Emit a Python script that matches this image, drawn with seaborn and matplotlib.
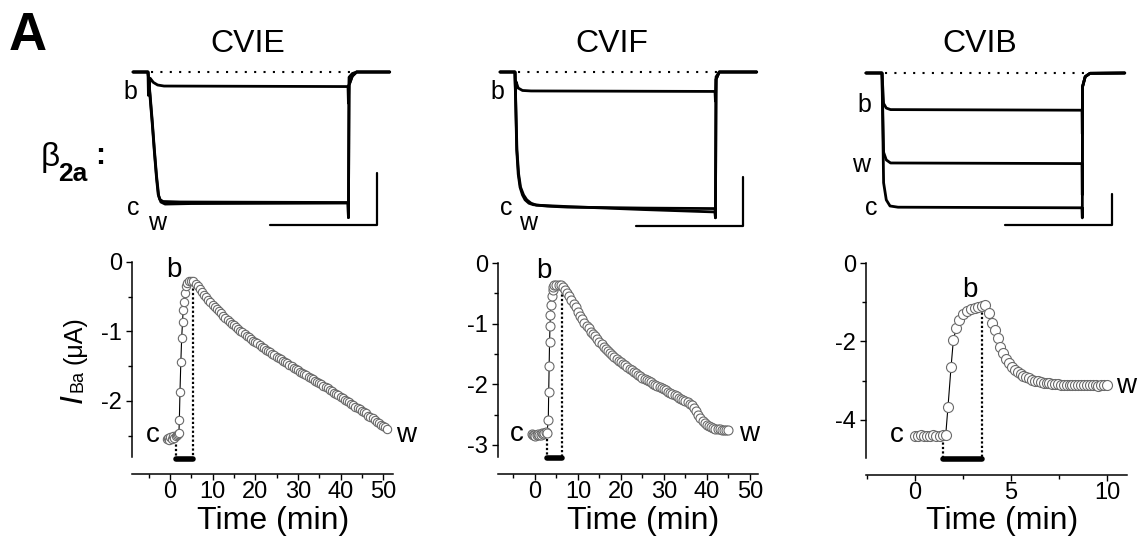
import numpy as np
import matplotlib
matplotlib.use("Agg")
import matplotlib.pyplot as plt
import seaborn as sns
from matplotlib.ticker import MultipleLocator, FormatStrFormatter

sns.set_theme(style="ticks", rc={
    "axes.edgecolor": "black", "xtick.color": "black", "ytick.color": "black",
    "text.color": "black", "axes.labelcolor": "black",
})
plt.rcParams["font.family"] = ["Liberation Sans", "DejaVu Sans"]
plt.rcParams["axes.unicode_minus"] = False

W, H = 1141, 550
MS_PER_PX = 0.935

# === Data ===
channels = ["CVIE", "CVIF", "CVIB"]

# current traces: time (ms), current (uA); c = control, b = bath, w = washout
cvie_c_t = [-14, 0, 2, 4, 6, 8, 9.5, 11, 14, 30, 187, 187.4, 188, 191, 195, 226]
cvie_c_i = [0, 0, -0.5, -1.0, -1.55, -2.05, -2.35, -2.45, -2.49, -2.5, -2.51, -2.8, -0.25, -0.08, 0, 0]
cvie_w_t = [-14, 0, 2, 4, 6, 8, 10, 12, 16, 40, 187, 187.4, 188, 191, 195, 226]
cvie_w_i = [0, 0, -0.45, -0.95, -1.5, -2.0, -2.38, -2.5, -2.54, -2.53, -2.52, -2.8, -0.25, -0.08, 0, 0]
cvie_b_t = [-14, 0, 0.4, 2, 5, 9, 15, 187, 187.4, 188, 191, 195, 226]
cvie_b_i = [0, 0, -0.45, -0.12, -0.2, -0.25, -0.27, -0.28, -0.6, -0.1, -0.03, 0, 0]

cvif_c_t = [-14, 0, 1.6, 3, 4.7, 7, 9.4, 13, 17, 30, 49, 120, 187, 187.4, 188, 191, 226]
cvif_c_i = [0, 0, -1.6, -2.1, -2.37, -2.53, -2.63, -2.7, -2.73, -2.76, -2.78, -2.8, -2.81, -3.0, -0.15, 0, 0]
cvif_w_t = [-14, 0, 1.8, 3.4, 5.2, 8, 11, 15, 20, 50, 120, 187, 187.4, 188, 191, 226]
cvif_w_i = [0, 0, -1.6, -2.1, -2.37, -2.53, -2.63, -2.7, -2.74, -2.77, -2.83, -2.88, -3.0, -0.15, 0, 0]
cvif_b_t = [-14, 0, 0.4, 1, 3, 7, 15, 187, 187.4, 188, 191, 226]
cvif_b_i = [0, 0, -0.45, -0.2, -0.33, -0.38, -0.39, -0.40, -0.6, -0.1, 0, 0]

cvib_c_t = [-15, 0, 1.5, 4, 7.5, 15, 187, 187.3, 187.5, 190, 194.5, 227]
cvib_c_i = [0, 0, -3.6, -4.16, -4.36, -4.4, -4.42, -4.75, -0.45, -0.12, -0.01, 0]
cvib_w_t = [-15, 0, 1.5, 4, 8, 187, 187.3, 187.5, 190, 194.5, 227]
cvib_w_i = [0, 0, -2.6, -2.85, -2.95, -2.97, -4.0, -0.45, -0.12, -0.01, 0]
cvib_b_t = [-15, 0, 1.5, 4, 8, 187, 187.3, 187.5, 190, 194.5, 227]
cvib_b_i = [0, 0, -1.0, -1.15, -1.2, -1.22, -2.0, -0.45, -0.12, -0.01, 0]

pulse_end = 187      # ms
scale_ms = 100
scale_ua = 1

# time courses: time (min), I_Ba (uA)
cvie_pre_t = [-0.8, -0.5, -0.2, 0.1, 0.4, 0.7, 1.0, 1.3, 1.6, 1.9]
cvie_pre_i = [-2.55, -2.53, -2.56, -2.52, -2.54, -2.50, -2.53, -2.51, -2.49, -2.47]
cvie_rise_t = [2.1, 2.2, 2.35, 2.55, 2.75, 2.95, 3.1, 3.25, 3.45, 3.7]
cvie_rise_i = [-2.46, -2.28, -1.87, -1.44, -1.09, -0.86, -0.69, -0.57, -0.45, -0.35]
cvie_decay_i = [
    -0.30, -0.28, -0.27, -0.28, -0.31, -0.35, -0.39, -0.43, -0.47, -0.51,
    -0.55, -0.58, -0.62, -0.65, -0.68, -0.71, -0.74, -0.77, -0.80, -0.83,
    -0.86, -0.89, -0.91, -0.94, -0.96, -0.99, -1.01, -1.04, -1.06, -1.08,
    -1.11, -1.13, -1.15, -1.17, -1.19, -1.22, -1.24, -1.26, -1.28, -1.30,
    -1.32, -1.34, -1.36, -1.38, -1.40, -1.42, -1.44, -1.46, -1.48, -1.50,
    -1.52, -1.54, -1.56, -1.58, -1.60, -1.61, -1.63, -1.65, -1.67, -1.69,
    -1.71, -1.72, -1.74, -1.76, -1.78, -1.80, -1.82, -1.84, -1.86, -1.88,
    -1.90, -1.92, -1.94, -1.96, -1.98, -2.00, -2.02, -2.04, -2.06, -2.08,
    -2.10, -2.12, -2.14, -2.16, -2.18, -2.21, -2.23, -2.25, -2.28, -2.30,
    -2.32, -2.34, -2.36, -2.38, -2.40,
]
cvie_decay_start, cvie_step = 4.0, 0.5

cvif_pre_t = [-0.8, -0.5, -0.2, 0.1, 0.4, 0.7, 1.0, 1.3, 1.6, 1.9, 2.2, 2.5, 2.8]
cvif_pre_i = [-2.82, -2.84, -2.83, -2.85, -2.83, -2.82, -2.84, -2.83, -2.81, -2.82, -2.80, -2.79, -2.80]
cvif_rise_t = [3.1, 3.2, 3.3, 3.4, 3.5, 3.6, 3.75, 3.9, 4.1, 4.3]
cvif_rise_i = [-2.59, -2.12, -1.70, -1.30, -1.04, -0.86, -0.69, -0.55, -0.45, -0.40]
cvif_decay_i = [
    -0.37, -0.36, -0.36, -0.37, -0.40, -0.44, -0.49, -0.55, -0.61, -0.67,
    -0.73, -0.80, -0.87, -0.93, -0.99, -1.04, -1.08, -1.13, -1.17, -1.21,
    -1.26, -1.30, -1.34, -1.38, -1.42, -1.45, -1.49, -1.52, -1.55, -1.58,
    -1.61, -1.64, -1.67, -1.69, -1.72, -1.75, -1.77, -1.80, -1.82, -1.84,
    -1.87, -1.89, -1.91, -1.93, -1.95, -1.97, -1.99, -2.01, -2.03, -2.05,
    -2.06, -2.08, -2.10, -2.12, -2.14, -2.16, -2.18, -2.20, -2.22, -2.24,
    -2.26, -2.28, -2.30, -2.32, -2.35, -2.39, -2.44, -2.50, -2.55, -2.60,
    -2.64, -2.67, -2.69, -2.71, -2.72, -2.73, -2.74, -2.74, -2.75, -2.75,
    -2.75, -2.75,
]
cvif_decay_start, cvif_step = 4.5, 0.5

cvib_pre_t = [0.0, 0.16, 0.32, 0.48, 0.64, 0.8, 0.96, 1.12, 1.28, 1.44, 1.6]
cvib_pre_i = [-4.40, -4.41, -4.39, -4.40, -4.42, -4.40, -4.39, -4.41, -4.40, -4.38, -4.39]
cvib_rise_t = [1.72, 1.88, 2.0, 2.15, 2.3, 2.5, 2.7, 2.9, 3.1, 3.3, 3.5, 3.65]
cvib_rise_i = [-3.66, -2.64, -1.96, -1.66, -1.45, -1.30, -1.22, -1.17, -1.14, -1.11, -1.10, -1.07]
cvib_decay_i = [
    -1.27, -1.52, -1.70, -1.92, -2.13, -2.30, -2.45, -2.56, -2.65, -2.72,
    -2.78, -2.83, -2.87, -2.91, -2.94, -2.97, -3.00, -3.02, -3.04, -3.05,
    -3.06, -3.07, -3.08, -3.09, -3.09, -3.10, -3.10, -3.11, -3.10, -3.11,
    -3.11, -3.12, -3.11, -3.12, -3.12, -3.11, -3.12, -3.12, -3.13, -3.12,
    -3.12, -3.12,
]
cvib_decay_start, cvib_step = 3.85, 0.15

# toxin application (min): start, end, and current at the dotted markers
app_on = [1.5, 2.7, 1.48]
app_off = [5.4, 6.3, 3.47]
app_on_level = [-2.56, -2.9, -4.46]
app_off_level = [-0.31, -0.44, -1.15]

# === Layout (pixels) ===
def px_rect(x0, y0, x1, y1):
    return [x0 / W, 1 - y1 / H, (x1 - x0) / W, (y1 - y0) / H]

def fpx(x, y):
    return x / W, 1 - y / H

fig = plt.figure(figsize=(W / 100, H / 100), dpi=100)

# --- top: current traces ---
trace_anchor = [(148, 72, 52.0), (515, 72, 48.6), (882, 73, 30.5)]  # step px, baseline px, px per uA
trace_ylim = [(-3.4, 0.4), (-3.5, 0.4), (-5.3, 0.5)]
trace_xlim = (-25, 235)
scale_corner = [(214, -2.94), (213, -3.17), (215, -4.98)]
trace_sets = [
    [(cvie_c_t, cvie_c_i), (cvie_w_t, cvie_w_i), (cvie_b_t, cvie_b_i)],
    [(cvif_c_t, cvif_c_i), (cvif_w_t, cvif_w_i), (cvif_b_t, cvif_b_i)],
    [(cvib_c_t, cvib_c_i), (cvib_w_t, cvib_w_i), (cvib_b_t, cvib_b_i)],
]
trace_labels = [
    [("b", -16.8, -0.52), ("c", -13.7, -2.75), ("w", 8.1, -3.04)],
    [("b", -16.4, -0.56), ("c", -7.8, -2.94), ("w", 12.2, -3.25)],
    [("b", -16.8, -1.29), ("w", -19.6, -3.24), ("c", -10.5, -4.66)],
]
title_px = [(248, 44), (612, 44), (980, 44)]

for k in range(3):
    t0, y0, s = trace_anchor[k]
    x0 = t0 + trace_xlim[0] / MS_PER_PX
    x1 = t0 + trace_xlim[1] / MS_PER_PX
    ytop = y0 - trace_ylim[k][1] * s
    ybot = y0 - trace_ylim[k][0] * s
    ax = fig.add_axes(px_rect(x0, ytop, x1, ybot))
    ax.set_xlim(trace_xlim)
    ax.set_ylim(trace_ylim[k])
    ax.axis("off")
    for tt, ii in trace_sets[k]:
        sns.lineplot(x=tt, y=ii, ax=ax, sort=False, estimator=None,
                     color="black", linewidth=2.0, clip_on=False)
    ax.plot([3, pulse_end + 2], [0, 0], color="black", lw=1.5,
            linestyle=(0, (1, 3.5)), clip_on=False)
    cx, cy = scale_corner[k]
    ax.plot([cx - scale_ms, cx, cx], [cy, cy, cy + scale_ua], color="black",
            lw=1.6, clip_on=False)
    for lab, lx, ly in trace_labels[k]:
        ax.text(lx, ly, lab, fontsize=18, ha="center", va="baseline")
    fig.text(*fpx(*title_px[k]), channels[k], fontsize=23, ha="center", va="center")

fig.text(*fpx(9, 50), "A", fontsize=38, fontweight="bold", ha="left", va="baseline")
fig.text(*fpx(41, 166), "β", fontsize=24, ha="left", va="baseline")
fig.text(*fpx(58, 181), "2a", fontsize=19, fontweight="bold", ha="left", va="baseline")
fig.text(*fpx(95, 164), ":", fontsize=22, fontweight="bold", ha="left", va="baseline")

# --- bottom: time courses ---
tc_box = [(132, 262, 393, 457), (498, 263, 758, 457), (866, 263, 1127, 458)]
tc_xlim = [(-8.9, 52.3), (-8.6, 51.9), (-2.55, 11.04)]
tc_ylim = [(-2.806, 0), (-3.2, 0), (-4.97, 0)]
tc_xmajor = [10, 10, 5]
tc_ymajor = [1, 1, 2]
tc_msize = [6.0, 6.5, 7.2]
xlabel_coords = [(0.54, -0.25), (0.56, -0.25), (0.523, -0.245)]
bar_y = [-2.83, -3.22, -4.99]
tc_labels = [
    [("c", -4.1, -2.585), ("b", 0.98, -0.21), ("w", 55.4, -2.59)],
    [("c", -4.3, -2.94), ("b", 2.1, -0.25), ("w", 49.8, -2.94)],
    [("c", -0.95, -4.55), ("b", 2.85, -0.86), ("w", 11.0, -3.32)],
]
series = [
    (cvie_pre_t, cvie_pre_i, cvie_rise_t, cvie_rise_i, cvie_decay_start, cvie_step, cvie_decay_i),
    (cvif_pre_t, cvif_pre_i, cvif_rise_t, cvif_rise_i, cvif_decay_start, cvif_step, cvif_decay_i),
    (cvib_pre_t, cvib_pre_i, cvib_rise_t, cvib_rise_i, cvib_decay_start, cvib_step, cvib_decay_i),
]

for k in range(3):
    ax = fig.add_axes(px_rect(*tc_box[k]))
    pre_t, pre_i, rise_t, rise_i, d0, dt, dec_i = series[k]
    dec_t = d0 + dt * np.arange(len(dec_i))
    t = np.concatenate([pre_t, rise_t, dec_t])
    i = np.concatenate([pre_i, rise_i, dec_i])

    # application marks: dotted drops and bar
    for x, top in [(app_on[k], app_on_level[k]), (app_off[k], app_off_level[k])]:
        ax.plot([x, x], [top, bar_y[k]], color="black", lw=1.6,
                linestyle=(0, (1, 1)), clip_on=False)
    ax.plot([app_on[k], app_off[k]], [bar_y[k], bar_y[k]], color="black", lw=4,
            solid_capstyle="round", clip_on=False, zorder=4)

    sns.lineplot(x=t, y=i, ax=ax, sort=False, estimator=None, color="black",
                 linewidth=0.8, marker="o", markersize=tc_msize[k],
                 markerfacecolor="white", markeredgecolor="#6a6a6a",
                 markeredgewidth=0.8, clip_on=False, zorder=3)

    ax.set_xlim(tc_xlim[k])
    ax.set_ylim(tc_ylim[k])
    sns.despine(ax=ax)
    ax.spines["bottom"].set_position(("outward", 12))
    for sp in ("left", "bottom"):
        ax.spines[sp].set_linewidth(1.1)
    ax.xaxis.set_major_locator(MultipleLocator(tc_xmajor[k]))
    ax.xaxis.set_minor_locator(MultipleLocator(tc_xmajor[k] / 2))
    ax.yaxis.set_major_locator(MultipleLocator(tc_ymajor[k]))
    ax.yaxis.set_minor_locator(MultipleLocator(tc_ymajor[k] / 2))
    ax.xaxis.set_major_formatter(FormatStrFormatter("%g"))
    ax.yaxis.set_major_formatter(FormatStrFormatter("%g"))
    ax.tick_params(which="major", length=4.0, width=1.0, labelsize=17)
    ax.tick_params(which="minor", length=2.9, width=1.0)
    ax.tick_params(axis="x", which="major", pad=1.5)
    ax.tick_params(axis="y", which="major", pad=3.0)

    ax.set_xlabel("Time (min)", fontsize=23)
    ax.xaxis.set_label_coords(*xlabel_coords[k])
    ax.set_ylabel("")
    for lab, lx, ly in tc_labels[k]:
        ax.text(lx, ly, lab, fontsize=20, ha="center", va="baseline", clip_on=False)

# y-axis label of first time course, built from pieces
fig.text(*fpx(82, 403), "I", fontsize=23, style="italic", rotation=90,
         rotation_mode="anchor", ha="left", va="baseline")
fig.text(*fpx(82, 392), "Ba", fontsize=13, rotation=90,
         rotation_mode="anchor", ha="left", va="baseline")
fig.text(*fpx(82, 364), "(μA)", fontsize=18, rotation=90,
         rotation_mode="anchor", ha="left", va="baseline")

plt.savefig("out.png", dpi=100)
